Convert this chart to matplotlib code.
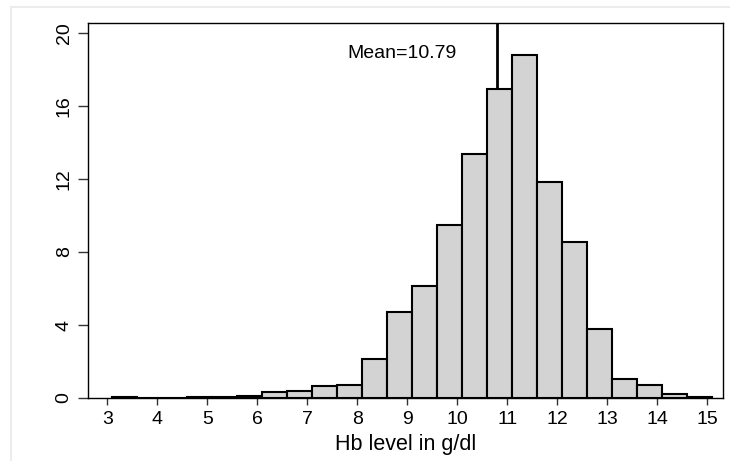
import matplotlib
matplotlib.use("Agg")
import matplotlib.pyplot as plt
from matplotlib.lines import Line2D

plt.rcParams['font.family'] = ['Liberation Sans', 'DejaVu Sans']

# Data (percent per 0.5 g/dl bin)
bin_edges = [3.1, 3.6, 4.1, 4.6, 5.1, 5.6, 6.1, 6.6, 7.1, 7.6, 8.1, 8.6, 9.1,
             9.6, 10.1, 10.6, 11.1, 11.6, 12.1, 12.6, 13.1, 13.6, 14.1, 14.6, 15.1]
percent = [0.05, 0.0, 0.0, 0.03, 0.03, 0.10, 0.31, 0.38, 0.66, 0.69, 2.14, 4.69,
           6.12, 9.48, 13.37, 16.96, 18.77, 11.84, 8.55, 3.76, 1.02, 0.71, 0.24, 0.05]
mean_value = 10.79
x_ticks = list(range(3, 16))
y_ticks = [0, 4, 8, 12, 16, 20]
x_label = "Hb level in g/dl"

fig = plt.figure(figsize=(7.30, 4.61), dpi=100)
fig.patch.set_facecolor('white')

# faint outer frame
fig.add_artist(Line2D([11/730, 11/730], [0, 1 - 7/461], color='#ececec', lw=1.5,
                      transform=fig.transFigure))
fig.add_artist(Line2D([11/730, 1], [1 - 7/461, 1 - 7/461], color='#ececec', lw=1.5,
                      transform=fig.transFigure))

ax = fig.add_axes([88/730, 1 - 398/461, (723 - 88)/730, (398 - 23)/461])

widths = [bin_edges[i + 1] - bin_edges[i] for i in range(len(percent))]
ax.bar(bin_edges[:-1], percent, width=widths, align='edge', color='#d3d3d3',
       edgecolor='black', linewidth=1.5, zorder=3)
ax.axvline(mean_value, color='black', lw=2, zorder=2)
ax.text(mean_value - 1.9, 18.87, f"Mean={mean_value:.2f}", ha='center', va='center',
        fontsize=14)

ax.set_xlim(2.614, 15.31)
ax.set_ylim(0, 20.55)
ax.set_xticks(x_ticks)
ax.set_yticks(y_ticks)
ax.tick_params(axis='x', length=5, width=1, colors='#333333', labelcolor='black',
               labelsize=14, pad=4)
ax.tick_params(axis='y', length=7, width=1, colors='#333333', labelcolor='black',
               labelsize=14, pad=4)
for lab in ax.get_yticklabels():
    lab.set_rotation(90)
    lab.set_va('center')
for s in ax.spines.values():
    s.set_linewidth(1)
    s.set_color('black')
ax.set_xlabel(x_label, fontsize=15.5, labelpad=5)

fig.savefig("out.png", dpi=100, facecolor='white')
